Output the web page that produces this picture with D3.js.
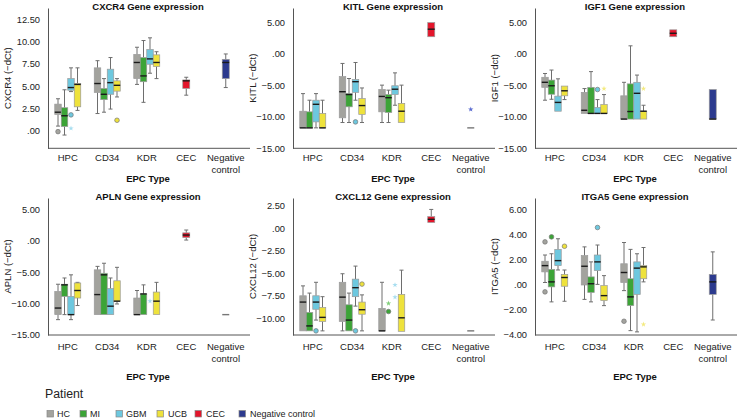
<!DOCTYPE html>
<html><head><meta charset="utf-8">
<script src="https://cdn.jsdelivr.net/npm/d3@7"></script>
<style>body{margin:0;background:#fff}svg{display:block;font-family:"Liberation Sans",Arial,Helvetica,sans-serif}</style>
</head><body><svg id="c" width="740" height="420"></svg>
<script>
const categories = ["HPC","CD34","KDR","CEC","Negative control"];
const patients = ["HC","MI","GBM","UCB"];
const legendLabels = ["HC","MI","GBM","UCB","CEC","Negative control"];

// [category, group, lowWhisker, q1, median, q3, highWhisker]
const cxcr4Boxes = [
  ["HPC","HC",0.55,1.85,2.1,3.0,3.6],["HPC","MI",-0.45,0.5,1.7,2.6,4.6],
  ["HPC","GBM",4.4,4.55,4.85,5.85,7.05],["HPC","UCB",2.3,2.7,5.2,5.3,7.05],
  ["CD34","HC",1.95,4.3,5.3,7.05,7.85],["CD34","MI",2.1,3.5,4.1,4.75,5.85],
  ["CD34","GBM",2.45,4.1,5.4,6.9,8.2],["CD34","UCB",3.8,4.45,5.1,5.6,5.85],
  ["KDR","HC",5.2,5.85,7.65,8.55,9.35],["KDR","MI",3.2,5.5,6.15,8.2,10.1],
  ["KDR","GBM",6.45,7.45,8.05,9.1,10.4],["KDR","UCB",5.85,7.2,7.65,8.5,8.85],
  ["CEC","CEC",4.0,4.75,5.6,5.7,6.0],
  ["Negative control","Negative control",4.85,5.85,7.65,8.0,8.6]
];
// [category, group, value, kind]  kind: o = outlier circle, * = extreme
const cxcr4Outliers = [["HPC","HC",-0.07,"o"],["HPC","GBM",1.8,"o"],["HPC","GBM",0.3,"*"],["CD34","UCB",1.2,"o"]];
const cxcr4Ticks = [0,2.5,5,7.5,10,12.5];

const kitlBoxes = [
  ["HPC","HC",-11.75,-11.75,-11.75,-9.1,-6.3],["HPC","MI",-11.75,-11.75,-11.75,-9.2,-7.35],
  ["HPC","GBM",-11.75,-10.8,-8.0,-7.35,-6.3],["HPC","UCB",-11.75,-11.75,-11.75,-9.45,-7.35],
  ["CD34","HC",-10.9,-10.15,-6.0,-3.6,-1.5],["CD34","MI",-10.9,-8.4,-6.45,-6.3,-3.9],
  ["CD34","GBM",-7.35,-6.1,-4.4,-4.05,-1.35],["CD34","UCB",-10.9,-9.6,-8.2,-7.1,-5.4],
  ["KDR","HC",-10.9,-9.2,-6.75,-5.65,-4.95],["KDR","MI",-10.9,-9.3,-6.95,-6.45,-5.75],
  ["KDR","GBM",-8.15,-6.45,-5.6,-5.05,-3.0],["KDR","UCB",-10.9,-10.9,-9.1,-7.85,-4.95],
  ["CEC","CEC",2.75,2.75,3.95,5.0,5.0],
  ["Negative control","Negative control",-11.75,-11.75,-11.75,-11.75,-11.75]
];
const kitlOutliers = [["CD34","GBM",-10.8,"o"],["Negative control","Negative control",-8.8,"*"]];
const kitlTicks = [-15,-10,-5,0,5];

const igf1Boxes = [
  ["HPC","HC",-7.35,-5.3,-4.5,-3.7,-3.1],["HPC","MI",-7.2,-6.4,-5.05,-4.15,-2.55],
  ["HPC","GBM",-9.1,-9.1,-7.7,-6.7,-3.95],["HPC","UCB",-7.25,-6.65,-5.85,-5.1,-5.1],
  ["CD34","HC",-9.45,-9.45,-8.95,-6.1,-5.5],["CD34","MI",-9.45,-9.45,-9.45,-5.3,-2.8],
  ["CD34","GBM",-9.45,-9.45,-9.45,-8.5,-7.25],["CD34","UCB",-9.45,-9.45,-9.45,-8.05,-6.45],
  ["KDR","HC",-10.35,-10.35,-10.35,-6.65,-4.5],["KDR","MI",-10.35,-10.35,-9.15,-4.75,1.3],
  ["KDR","GBM",-10.35,-10.35,-6.25,-4.5,-3.35],["KDR","UCB",-10.35,-10.35,-9.1,-9.1,-8.15],
  ["CEC","CEC",2.75,2.75,3.3,3.85,3.85],
  ["Negative control","Negative control",-10.35,-10.35,-10.35,-5.65,-5.65]
];
const igf1Outliers = [["CD34","GBM",-5.65,"o"],["CD34","UCB",-5.5,"*"],["KDR","UCB",-5.5,"*"]];
const igf1Ticks = [-15,-10,-5,0,5];

const aplnBoxes = [
  ["HPC","HC",-12.55,-11.75,-10.7,-8.05,-6.9],["HPC","MI",-11.75,-8.85,-7.0,-6.9,-5.9],
  ["HPC","GBM",-12.55,-11.75,-11.75,-8.85,-5.4],["HPC","UCB",-10.3,-9.1,-7.9,-6.7,-6.6],
  ["CD34","HC",-11.75,-11.75,-8.55,-4.6,-4.05],["CD34","MI",-11.75,-11.75,-5.4,-5.15,-3.55],
  ["CD34","GBM",-11.75,-11.75,-10.4,-7.6,-5.9],["CD34","UCB",-10.05,-9.6,-9.6,-6.35,-4.2],
  ["KDR","HC",-11.75,-11.75,-11.75,-9.1,-7.9],["KDR","MI",-11.75,-11.75,-8.45,-8.45,-7.0],
  ["KDR","UCB",-11.75,-11.75,-9.6,-8.15,-6.6],
  ["CEC","CEC",0.15,0.55,0.95,1.3,1.75],
  ["Negative control","Negative control",-11.75,-11.75,-11.75,-11.75,-11.75]
];
const aplnOutliers = [["KDR","GBM",-9.6,"*"]];
const aplnTicks = [-15,-10,-5,0,5];

const cxcl12Boxes = [
  ["HPC","HC",-11.4,-11.4,-8.2,-7.5,-6.4],["HPC","MI",-11.4,-11.4,-10.85,-9.35,-7.2],
  ["HPC","GBM",-10.2,-9.0,-8.2,-7.5,-6.0],["HPC","UCB",-11.4,-10.35,-9.9,-8.8,-7.6],
  ["CD34","HC",-11.4,-10.35,-7.65,-6.0,-5.05],["CD34","MI",-11.4,-11.4,-10.2,-8.5,-7.2],
  ["CD34","GBM",-8.65,-7.6,-6.6,-5.65,-4.2],["CD34","UCB",-11.4,-9.55,-9.05,-8.2,-7.4],
  ["KDR","HC",-11.4,-11.4,-11.4,-8.9,-6.0],["KDR","UCB",-11.45,-11.45,-9.95,-7.35,-4.65],
  ["CEC","CEC",0.65,0.65,1.0,1.3,2.1],
  ["Negative control","Negative control",-11.4,-11.4,-11.4,-11.4,-11.4]
];
const cxcl12Outliers = [["HPC","GBM",-11.4,"o"],["CD34","GBM",-11.4,"o"],["CD34","UCB",-6.2,"o"],
  ["KDR","MI",-8.35,"*"],["KDR","MI",-9.25,"o"],["KDR","GBM",-6.3,"*"],["KDR","GBM",-7.65,"*"]];
const cxcl12Ticks = [-10,-7.5,-5,-2.5,0,2.5];

const itga5Boxes = [
  ["HPC","HC",0.2,1.05,1.55,1.9,2.4],["HPC","MI",-1.35,-0.15,0.25,1.25,2.5],
  ["HPC","GBM",1.2,1.55,1.95,2.85,3.7],["HPC","UCB",-1.3,-0.1,0.6,0.85,1.2],
  ["CD34","HC",-1.15,0.0,1.5,2.35,3.05],["CD34","MI",-1.35,-0.6,0.1,0.65,1.85],
  ["CD34","GBM",0.05,1.15,1.85,2.4,3.2],["CD34","UCB",-1.65,-1.25,-0.85,-0.05,0.75],
  ["KDR","HC",-0.45,0.2,1.0,1.7,3.4],["KDR","MI",-3.65,-1.65,-0.95,0.5,2.85],
  ["KDR","GBM",-3.75,-0.75,1.35,1.85,2.5],["KDR","UCB",0.25,0.5,1.45,1.55,3.0],
  ["Negative control","Negative control",-2.8,-0.75,0.25,0.85,2.65]
];
const itga5Outliers = [["HPC","HC",3.45,"o"],["HPC","HC",-0.55,"o"],["HPC","MI",3.85,"o"],["HPC","UCB",3.1,"o"],
  ["CD34","GBM",4.6,"o"],["KDR","HC",-2.9,"o"],["KDR","UCB",-3.15,"*"]];
const itga5Ticks = [-4,-2,0,2,4,6];

const colors = {"HC":"#a3a39e","MI":"#3ca437","GBM":"#6dc8df","UCB":"#eee23c","CEC":"#e3152b","Negative control":"#2c3a8e"};
const starColors = {"HC":"#c9c9c5","MI":"#7fcf79","GBM":"#a8def0","UCB":"#f3ea80","CEC":"#f07080","Negative control":"#5a6bd0"};

const panels = [
  {title:"CXCR4 Gene expression", ylab:"CXCR4 (\u2212dCt)", boxes:cxcr4Boxes, outs:cxcr4Outliers, ticks:cxcr4Ticks, dom:[-1.93,13.73], ax:48, top:8, bot:148.3, row:0},
  {title:"KITL Gene expression", ylab:"KITL (\u2212dCt)", boxes:kitlBoxes, outs:kitlOutliers, ticks:kitlTicks, dom:[-15,7.32], ax:293, top:8, bot:148.3, row:0},
  {title:"IGF1 Gene expression", ylab:"IGF1 (\u2212dct)", boxes:igf1Boxes, outs:igf1Outliers, ticks:igf1Ticks, dom:[-15,7.32], ax:535, top:8, bot:148.3, row:0},
  {title:"APLN Gene expression", ylab:"APLN (\u2212dCt)", boxes:aplnBoxes, outs:aplnOutliers, ticks:aplnTicks, dom:[-15,6.86], ax:48, top:198, bot:335, row:1},
  {title:"CXCL12 Gene expression", ylab:"CXCL12 (\u2212dCt)", boxes:cxcl12Boxes, outs:cxcl12Outliers, ticks:cxcl12Ticks, dom:[-11.86,3.37], ax:293, top:198, bot:335, row:1},
  {title:"ITGA5 Gene expression", ylab:"ITGA5 (\u2212dCt)", boxes:itga5Boxes, outs:itga5Outliers, ticks:itga5Ticks, dom:[-4,6.96], ax:535, top:198, bot:335, row:1}
];

const svg = d3.select("#c");
svg.append("rect").attr("width",740).attr("height",420).attr("fill","#fff");
const f2 = d3.format(".2f");
const fmt = v => v === 0 ? ".00" : f2(v);
const sub = d3.scaleBand().domain(patients).range([-13,13]);
const bw = sub.bandwidth();

panels.forEach(p => {
  const g = svg.append("g");
  const x = d3.scaleBand().domain(categories).range([p.ax, p.ax + 197.5]);
  const y = d3.scaleLinear().domain(p.dom).range([p.bot, p.top]);
  const cx = (cat, grp) => {
    const c = x(cat) + x.bandwidth()/2;
    return patients.includes(grp) ? c + sub(grp) + bw/2 : c;
  };

  const ya = g.append("g").attr("transform",`translate(${p.ax},0)`)
    .call(d3.axisLeft(y).tickValues(p.ticks).tickFormat(fmt).tickSize(0).tickPadding(8).tickSizeOuter(0));
  ya.select(".domain").attr("stroke","#555").attr("stroke-width",1);
  ya.selectAll("text").attr("font-size",9.3).attr("fill","#222").attr("font-family",null);
  g.append("line").attr("x1",p.ax).attr("x2",p.ax+202).attr("y1",p.bot).attr("y2",p.bot).attr("stroke","#555");

  const lo = p.row === 0 ? 12.5 : 15;
  categories.forEach(c => {
    const parts = c === "Negative control" ? ["Negative","control"] : [c];
    parts.forEach((t,i) => g.append("text").attr("x", x(c)+x.bandwidth()/2).attr("y", p.bot + lo + i*12)
      .attr("text-anchor","middle").attr("font-size",9.5).attr("fill","#222").text(t));
  });
  g.append("text").attr("x", p.ax+100).attr("y", p.bot + (p.row===0?34:45)).attr("text-anchor","middle")
    .attr("font-size",9.5).attr("font-weight","bold").attr("fill","#111").text("EPC Type");
  g.append("text").attr("x", p.ax+100).attr("y", p.top + 2).attr("text-anchor","middle")
    .attr("font-size",9.5).attr("font-weight","bold").attr("fill","#111").text(p.title);
  g.append("text").attr("transform",`translate(${p.ax-37},${(p.top+p.bot)/2}) rotate(-90)`)
    .attr("text-anchor","middle").attr("font-size",9.5).attr("fill","#222").text(p.ylab);

  p.boxes.forEach(([cat,grp,lw,q1,md,q3,hw]) => {
    const c = cx(cat,grp), w = patients.includes(grp) ? bw : 7;
    const wl = "#6e6e6e";
    if (hw > q3) {
      g.append("line").attr("x1",c).attr("x2",c).attr("y1",y(q3)).attr("y2",y(hw)).attr("stroke",wl);
      g.append("line").attr("x1",c-2).attr("x2",c+2).attr("y1",y(hw)).attr("y2",y(hw)).attr("stroke",wl);
    }
    if (lw < q1) {
      g.append("line").attr("x1",c).attr("x2",c).attr("y1",y(q1)).attr("y2",y(lw)).attr("stroke",wl);
      g.append("line").attr("x1",c-2).attr("x2",c+2).attr("y1",y(lw)).attr("y2",y(lw)).attr("stroke",wl);
    }
    if (q3 > q1) {
      g.append("rect").attr("x",c-w/2).attr("y",y(q3)).attr("width",w).attr("height",y(q1)-y(q3))
        .attr("fill",colors[grp]).attr("stroke","#9a9a9a").attr("stroke-width",0.7);
    }
    g.append("line").attr("x1",c-w/2).attr("x2",c+w/2).attr("y1",y(md)).attr("y2",y(md))
      .attr("stroke", q3 > q1 ? "#1a1a1a" : "#777").attr("stroke-width",1.4);
  });

  p.outs.forEach(([cat,grp,v,k]) => {
    const c = cx(cat,grp);
    if (k === "o") {
      g.append("circle").attr("cx",c).attr("cy",y(v)).attr("r",2.3)
        .attr("fill",colors[grp]).attr("stroke","#777").attr("stroke-width",0.7);
    } else {
      g.append("path").attr("d", d3.symbol().type(d3.symbolStar).size(9)())
        .attr("transform",`translate(${c},${y(v)})`).attr("fill",starColors[grp]);
    }
  });
});

// legend
svg.append("text").attr("x",45).attr("y",398).attr("font-size",12.3).attr("fill","#222").text("Patient");
const legX = [47,80,116,157,195,239];
const legTX = [57,90,126,168,206,250];
legendLabels.forEach((l,i) => {
  svg.append("rect").attr("x",legX[i]).attr("y",410.5).attr("width",6.5).attr("height",6.5)
    .attr("fill",colors[l]).attr("stroke","#888").attr("stroke-width",0.7);
  svg.append("text").attr("x",legTX[i]).attr("y",417).attr("font-size",9).attr("fill","#222").text(l);
});
</script></body></html>
